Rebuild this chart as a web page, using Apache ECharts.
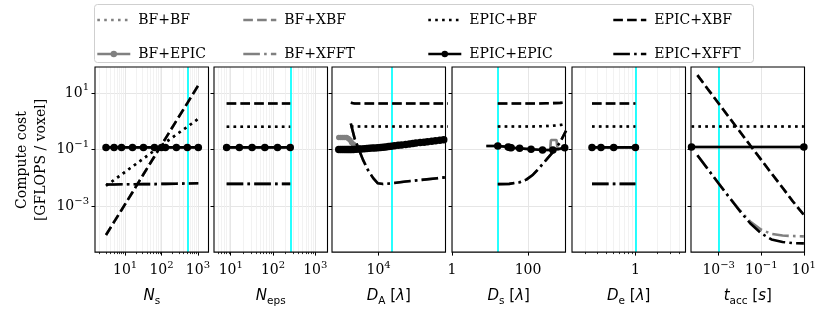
<!DOCTYPE html>
<html><head><meta charset="utf-8">
<script src="https://cdn.jsdelivr.net/npm/echarts@6/dist/echarts.min.js"></script>
<style>html,body{margin:0;padding:0;background:#fff}#c{width:830px;height:312px}</style>
</head><body><div id="c"></div>
<script>
// ---------------- DATA ----------------
const methods = ['BF+BF','BF+EPIC','BF+XBF','BF+XFFT','EPIC+BF','EPIC+EPIC','EPIC+XBF','EPIC+XFFT'];

// Panel 1: N_s
const ns          = [3, 5, 8, 16, 32, 64, 100, 128, 256, 512, 1024];
const ns_epicBF   = [0.0054, 0.0087, 0.0134, 0.0257, 0.049, 0.094, 0.142, 0.18, 0.34, 0.64, 1.23];
const ns_epicXBF  = [0.0001, 0.00029, 0.00076, 0.0032, 0.0137, 0.058, 0.147, 0.245, 1.04, 4.35, 18.5];
const ns_epicEPIC = [0.121, 0.121, 0.121, 0.121, 0.121, 0.121, 0.121, 0.121, 0.121, 0.121, 0.121];
const ns_epicXFFT = [0.0060, 0.0060, 0.0061, 0.0061, 0.0062, 0.0062, 0.0063, 0.0063, 0.0064, 0.0065, 0.0066];

// Panel 2: N_eps
const neps          = [8, 16, 32, 64, 128, 256];
const neps_epicBF   = [0.64, 0.64, 0.64, 0.64, 0.64, 0.64];
const neps_epicXBF  = [4.25, 4.25, 4.25, 4.25, 4.25, 4.25];
const neps_epicEPIC = [0.121, 0.121, 0.121, 0.121, 0.121, 0.121];
const neps_epicXFFT = [0.0063, 0.0063, 0.0063, 0.0063, 0.0063, 0.0063];

// Panel 3: D_A
const da = [3600, 3800, 4000, 4200, 4400, 4600, 4800, 5000, 5250, 5600, 6000, 6400, 6900, 7400, 7900, 8500, 9100, 9800,
            10500, 11200, 12000, 12900, 13800, 15000, 16500, 18000, 20000, 22000, 24000, 26000, 29000, 32000, 35000,
            39000, 43000, 48000, 53000];
const da_epicEPIC = [0.102, 0.102, 0.102, 0.102, 0.102, 0.102, 0.102, 0.102, 0.103, 0.105, 0.106, 0.107, 0.109, 0.111,
            0.112, 0.114, 0.115, 0.117, 0.120, 0.123, 0.126, 0.130, 0.133, 0.138, 0.143, 0.148, 0.154, 0.160, 0.165,
            0.171, 0.178, 0.185, 0.191, 0.200, 0.207, 0.216, 0.225];
const da_bfEPIC = [0.272, 0.272, 0.272, 0.272, 0.272, 0.25, 0.22, 0.18, 0.155, 0.135, 0.117, 0.108, 0.109, 0.111,
            0.112, 0.114, 0.115, 0.117, 0.120, 0.123, 0.126, 0.130, 0.133, 0.138, 0.143, 0.148, 0.154, 0.160, 0.165,
            0.171, 0.178, 0.185, 0.191, 0.200, 0.207, 0.216, 0.225];
const da2          = [4900, 5400, 5900, 6700, 7600, 8700, 9800, 11200, 14000, 20000, 30000, 45000, 60000];
const da2_epicXFFT = [0.84, 0.25, 0.121, 0.044, 0.0195, 0.010, 0.0066, 0.0062, 0.0066, 0.0076, 0.0087, 0.010, 0.011];
const da2_epicXBF  = [4.5, 4.25, 4.25, 4.25, 4.25, 4.25, 4.25, 4.25, 4.25, 4.25, 4.25, 4.25, 4.25];
const da2_epicBF   = [0.66, 0.66, 0.66, 0.66, 0.66, 0.66, 0.66, 0.66, 0.66, 0.66, 0.66, 0.66, 0.66];

// Panel 4: D_s
const ds          = [8, 16, 30, 33, 36, 60, 120, 240, 450, 920];
const ds_epicEPIC = [0.135, 0.135, 0.126, 0.121, 0.117, 0.112, 0.104, 0.098, 0.098, 0.117];
const ds3         = [8, 16, 30, 33, 36, 60, 120, 240, 380, 400, 560, 600, 920];
const ds3_bfEPIC  = [0.135, 0.135, 0.126, 0.121, 0.117, 0.112, 0.104, 0.098, 0.098, 0.22, 0.22, 0.10, 0.117];
const ds2          = [16, 32, 60, 90, 135, 200, 300, 450, 700, 1000];
const ds2_epicXBF  = [4.25, 4.25, 4.25, 4.25, 4.25, 4.25, 4.3, 4.35, 4.45, 4.6];
const ds2_epicBF   = [0.66, 0.66, 0.66, 0.66, 0.66, 0.67, 0.68, 0.70, 0.74, 0.8];
const ds2_epicXFFT = [0.0062, 0.0063, 0.0072, 0.0089, 0.0132, 0.0234, 0.0437, 0.083, 0.186, 0.47];

// Panel 5: D_e
const de          = [0.25, 0.333, 0.5, 1];
const de_epicBF   = [0.66, 0.66, 0.66, 0.66];
const de_epicXBF  = [4.25, 4.25, 4.25, 4.25];
const de_epicEPIC = [0.121, 0.121, 0.121, 0.121];
const de_epicXFFT = [0.0063, 0.0063, 0.0063, 0.0063];

// Panel 6: t_acc
const tacc          = [1e-4, 3e-4, 1e-3, 3e-3, 1e-2, 3e-2, 0.1, 0.3, 1, 3, 10];
const tacc_epicXBF  = [42, 14, 4.25, 1.42, 0.43, 0.143, 0.044, 0.0148, 0.0046, 0.00155, 0.00051];
const tacc_epicXFFT = [0.064, 0.0214, 0.0065, 0.0022, 0.00069, 0.00026, 0.000114, 0.00007, 0.000057, 0.000052, 0.000051];
const tacc_bfXFFT   = [0.064, 0.0214, 0.0065, 0.00222, 0.00073, 0.0003, 0.000154, 0.00011, 0.000096, 0.000092, 0.00009];
const tacc2          = [5.3e-5, 10];
const tacc2_epicBF   = [0.66, 0.66];
const tacc2_epicEPIC = [0.125, 0.125];

// fiducial values (cyan lines)
const cyanX = [512, 256, 14000, 16, 1, 0.001];

// axis labels / ticks (log10 exponents)
const xMajor = [[1, 2, 3], [1, 2, 3], [4], [0, 2], [0], [-3, -1, 1]];
const yMajor = [-3, -1, 1];
const xNames = ['{i|N}{s|s}', '{i|N}{s|eps}', '{i|D}{s|A} [{i|λ}]', '{i|D}{s|s} [{i|λ}]', '{i|D}{s|e} [{i|λ}]', '{i|t}{s|acc} [{i|s}]'];
const legendCols = [['BF+BF','BF+EPIC'], ['BF+XBF','BF+XFFT'], ['EPIC+BF','EPIC+EPIC'], ['EPIC+XBF','EPIC+XFFT']];
const legendWithMarker = ['BF+EPIC', 'EPIC+EPIC'];

// ---------------- LAYOUT ----------------
const L = Math.log10;
const xRange = [[0.175, 3.29], [0.604, 3.29], [3.481, 4.744], [0, 2.985], [-0.879, 0.694], [-4.30, 1.03]];
const yRange = [-4.6, 1.91];
const showMinor = [true, true, false, false, true, false];
const gridLeft = [95, 214, 332, 452, 572, 691];
const GW = 113.5, GT = 67, GH = 185.5;

const GREY = '#808080', BLACK = '#000000', LW = 2.6;
const DOT = [2.6, 4.3], DASH = [9.6, 4.2], DASHDOT = [16.6, 4.2, 2.6, 4.2];
const style = {
  'BF+BF': {c: GREY, t: DOT}, 'BF+EPIC': {c: GREY, t: 'solid', sym: 5.5},
  'BF+XBF': {c: GREY, t: DASH}, 'BF+XFFT': {c: GREY, t: DASHDOT},
  'EPIC+BF': {c: BLACK, t: DOT}, 'EPIC+EPIC': {c: BLACK, t: 'solid', sym: 7.5},
  'EPIC+XBF': {c: BLACK, t: DASH}, 'EPIC+XFFT': {c: BLACK, t: DASHDOT}
};

// panel -> list of [method, xs, ys, opts]
const panels = [
  [['BF+BF', ns, ns_epicBF], ['BF+EPIC', ns, ns_epicEPIC], ['BF+XBF', ns, ns_epicXBF], ['BF+XFFT', ns, ns_epicXFFT],
   ['EPIC+BF', ns, ns_epicBF], ['EPIC+EPIC', ns, ns_epicEPIC], ['EPIC+XBF', ns, ns_epicXBF], ['EPIC+XFFT', ns, ns_epicXFFT]],
  [['BF+BF', neps, neps_epicBF], ['BF+EPIC', neps, neps_epicEPIC], ['BF+XBF', neps, neps_epicXBF], ['BF+XFFT', neps, neps_epicXFFT],
   ['EPIC+BF', neps, neps_epicBF], ['EPIC+EPIC', neps, neps_epicEPIC], ['EPIC+XBF', neps, neps_epicXBF], ['EPIC+XFFT', neps, neps_epicXFFT]],
  [['BF+BF', da2, da2_epicBF], ['BF+XBF', da2, da2_epicXBF], ['BF+XFFT', da2, da2_epicXFFT], ['BF+EPIC', da, da_bfEPIC],
   ['EPIC+BF', da2, da2_epicBF], ['EPIC+XBF', da2, da2_epicXBF], ['EPIC+XFFT', da2, da2_epicXFFT], ['EPIC+EPIC', da, da_epicEPIC]],
  [['BF+BF', ds2, ds2_epicBF], ['BF+XBF', ds2, ds2_epicXBF], ['BF+XFFT', ds2, ds2_epicXFFT], ['BF+EPIC', ds3, ds3_bfEPIC, {noSym: true}],
   ['EPIC+BF', ds2, ds2_epicBF], ['EPIC+XBF', ds2, ds2_epicXBF], ['EPIC+XFFT', ds2, ds2_epicXFFT], ['EPIC+EPIC', ds, ds_epicEPIC, {noMarkFirst: true}]],
  [['BF+BF', de, de_epicBF], ['BF+EPIC', de, de_epicEPIC], ['BF+XBF', de, de_epicXBF], ['BF+XFFT', de, de_epicXFFT],
   ['EPIC+BF', de, de_epicBF], ['EPIC+EPIC', de, de_epicEPIC], ['EPIC+XBF', de, de_epicXBF], ['EPIC+XFFT', de, de_epicXFFT]],
  [['BF+BF', tacc2, tacc2_epicBF], ['BF+EPIC', tacc2, tacc2_epicEPIC], ['BF+XBF', tacc, tacc_epicXBF], ['BF+XFFT', tacc, tacc_bfXFFT],
   ['EPIC+BF', tacc2, tacc2_epicBF], ['EPIC+EPIC', tacc2, tacc2_epicEPIC], ['EPIC+XBF', tacc, tacc_epicXBF], ['EPIC+XFFT', tacc, tacc_epicXFFT]]
];

function pow10Label(v) {
  const n = Math.round(v);
  return '10{sup|' + (n < 0 ? '\u2212' : '') + Math.abs(n) + '}';
}
const xFmt = [pow10Label, pow10Label, pow10Label, v => String(Math.round(Math.pow(10, v))), v => String(Math.round(Math.pow(10, v))), pow10Label];

function minorTicks(r) {
  const out = [];
  for (let n = Math.floor(r[0]) - 1; n <= Math.ceil(r[1]); n++)
    for (let k = 2; k <= 9; k++) { const v = n + L(k); if (v > r[0] + 1e-6 && v < r[1] - 1e-6) out.push(v); }
  return out;
}

const labelRich = {sup: {fontFamily: 'DejaVu Serif', fontSize: 10, verticalAlign: 'top', lineHeight: 11, color: '#000'}};
const grids = [], xAxes = [], yAxes = [], series = [];
for (let p = 0; p < 6; p++) {
  grids.push({left: gridLeft[p], top: GT, width: GW, height: GH, show: true, borderColor: '#000', borderWidth: 1.1,
              backgroundColor: 'transparent', z: 3});
  xAxes.push({type: 'value', gridIndex: p, min: xRange[p][0], max: xRange[p][1], position: 'bottom',
    axisLine: {show: false, onZero: false},
    axisTick: {show: true, customValues: xMajor[p], length: 3.5, lineStyle: {color: '#000', width: 1}},
    axisLabel: {show: true, customValues: xMajor[p], formatter: xFmt[p], margin: 8, fontFamily: 'DejaVu Serif',
                fontSize: 14, color: '#000', lineHeight: 20, rich: labelRich, hideOverlap: false, showMinLabel: true, showMaxLabel: true},
    splitLine: {show: true, lineStyle: {color: '#e3e3e3', width: 0.9}},
    name: xNames[p], nameLocation: 'middle', nameGap: 29,
    nameTextStyle: {fontFamily: 'DejaVu Sans', fontSize: 15, color: '#000', lineHeight: 22,
      rich: {i: {fontFamily: 'DejaVu Sans', fontStyle: 'italic', fontSize: 15, lineHeight: 22, color: '#000'},
             s: {fontFamily: 'DejaVu Sans', fontSize: 10.5, verticalAlign: 'bottom', lineHeight: 14, color: '#000'}}}
  });
  const mt = showMinor[p] ? minorTicks(xRange[p]) : [];
  xAxes.push({type: 'value', gridIndex: p, min: xRange[p][0], max: xRange[p][1], position: 'bottom',
    axisLine: {show: false, onZero: false}, axisLabel: {show: false},
    axisTick: {show: mt.length > 0, customValues: mt.length ? mt : [xRange[p][0]], length: 2, lineStyle: {color: '#000', width: 0.8}},
    splitLine: {show: mt.length > 0, lineStyle: {color: '#efefef', width: 0.8}}
  });
  yAxes.push({type: 'value', gridIndex: p, min: yRange[0], max: yRange[1], position: 'left',
    axisLine: {show: false, onZero: false},
    axisTick: {show: true, customValues: yMajor, length: 3.5, lineStyle: {color: '#000', width: 1}},
    axisLabel: {show: p === 0, customValues: yMajor, formatter: pow10Label, margin: 6, fontFamily: 'DejaVu Serif',
                fontSize: 14, color: '#000', lineHeight: 20, rich: labelRich},
    splitLine: {show: true, lineStyle: {color: '#e3e3e3', width: 0.9}}
  });
  // cyan fiducial line
  series.push({type: 'line', xAxisIndex: 2 * p, yAxisIndex: p, data: [], silent: true, z: 1,
    markLine: {silent: true, z: 1, symbol: ['none', 'none'], animation: false, label: {show: false},
      lineStyle: {color: '#00ffff', width: 1.7, type: 'solid'}, emphasis: {disabled: true},
      data: [{xAxis: L(cyanX[p])}]}});
  for (const [name, xs, ys, opt = {}] of panels[p]) {
    const st = style[name];
    const hasSym = st.sym && !opt.noSym;
    const data = xs.map((x, i) => {
      const v = [L(x), L(ys[i])];
      return (opt.noMarkFirst && i === 0) ? {value: v, symbol: 'none'} : v;
    });
    series.push({type: 'line', name, xAxisIndex: 2 * p, yAxisIndex: p, data,
      z: st.c === GREY ? 10 : 11, silent: true, animation: false, clip: true,
      symbol: hasSym ? 'circle' : 'none', symbolSize: st.sym || 0, showSymbol: !!hasSym, showAllSymbol: true,
      itemStyle: {color: st.c, borderWidth: 0},
      lineStyle: {color: st.c, width: LW, type: st.t, cap: 'butt'},
      emphasis: {disabled: true}});
  }
}

const legendLeft = [96, 242, 427, 612];
const legends = legendCols.map((names, i) => ({
  orient: 'vertical', left: legendLeft[i], top: 13, itemGap: 20, itemWidth: 33, itemHeight: 8,
  data: names.map(n => legendWithMarker.includes(n) ? {name: n, itemStyle: {opacity: 1}} : {name: n}),
  selectedMode: false, padding: 0, z: 6,
  itemStyle: {opacity: 0},
  lineStyle: {width: LW},
  textStyle: {fontFamily: 'DejaVu Serif', fontSize: 14, color: '#000', padding: [0, 0, 0, 3]}
}));

const chart = echarts.init(document.getElementById('c'), null, {renderer: 'canvas'});
chart.setOption({
  animation: false,
  backgroundColor: '#fff',
  grid: grids, xAxis: xAxes, yAxis: yAxes, series,
  legend: legends,
  graphic: [
    {type: 'rect', silent: true, z: 0, shape: {x: 94.5, y: 4.5, width: 659, height: 58, r: 3},
     style: {fill: '#fff', stroke: '#cfcfcf', lineWidth: 1}},
    {type: 'text', silent: true, x: 22, y: 160, rotation: Math.PI / 2,
     style: {text: 'Compute cost', fontFamily: 'DejaVu Serif', fontSize: 14, fill: '#000', align: 'center', verticalAlign: 'middle', textAlign: 'center', textVerticalAlign: 'middle'}},
    {type: 'text', silent: true, x: 41, y: 160, rotation: Math.PI / 2,
     style: {text: '[GFLOPS / voxel]', fontFamily: 'DejaVu Serif', fontSize: 14, fill: '#000', align: 'center', verticalAlign: 'middle', textAlign: 'center', textVerticalAlign: 'middle'}}
  ]
});
</script></body></html>
